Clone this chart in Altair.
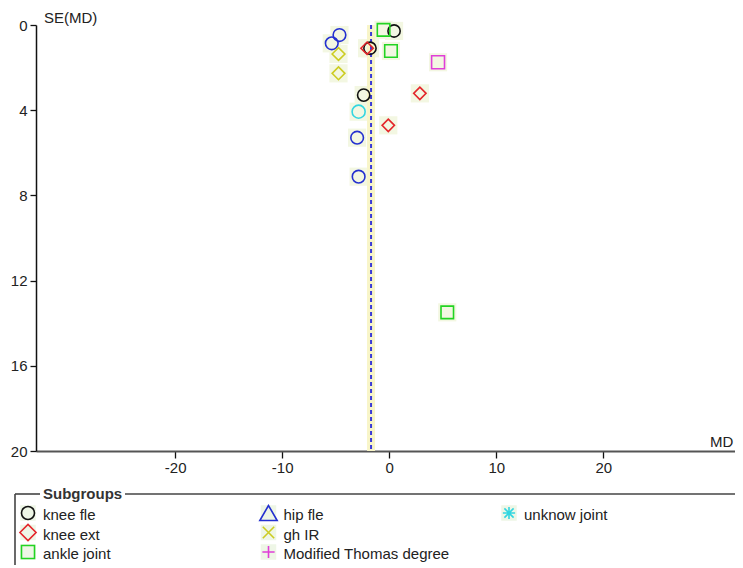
import altair as alt
import pandas as pd

# ---- data ----
groups = ["knee fle", "knee ext", "ankle joint", "hip fle", "gh IR",
          "Modified Thomas degree", "unknow joint"]

knee_fle_md = [0.45, -1.80, -2.39]
knee_fle_se = [0.28, 1.09, 3.29]
knee_ext_md = [-2.07, 2.86, -0.09]
knee_ext_se = [1.09, 3.21, 4.71]
ankle_md = [-0.53, 0.16, 5.42]
ankle_se = [0.23, 1.22, 13.49]
hip_fle_md = [-4.65, -5.37, -3.00, -2.86]
hip_fle_se = [0.47, 0.86, 5.29, 7.12]
gh_ir_md = [-4.74, -4.74]
gh_ir_se = [1.36, 2.27]
thomas_md = [4.56]
thomas_se = [1.75]
unknow_md = [-2.86]
unknow_se = [4.07]

pooled_md = [-1.70]

x_ticks = [-20, -10, 0, 10, 20]
y_ticks = [0, 4, 8, 12, 16, 20]

# ---- styles ----
group_colors = ["#111111", "#e3262a", "#22d422", "#2430d0", "#cccc22", "#e03fd8", "#33d6e0"]
plot_shapes = ["circle", "diamond", "square", "circle", "diamond", "square", "circle"]
plot_sizes = [150, 170, 121, 150, 170, 121, 150]
legend_shapes = [
    "circle", "diamond", "square", "triangle-up",
    "M-1,-1L1,1M-1,1L1,-1",
    "M-1,0L1,0M0,-1L0,1",
    "M-1,0L1,0M0,-1L0,1M-0.75,-0.75L0.75,0.75M-0.75,0.75L0.75,-0.75",
]
legend_sizes = [170, 260, 170, 300, 130, 150, 150]
legend_col = [0, 0, 0, 1, 1, 1, 2]
legend_row = [0, 1, 2, 0, 1, 2, 0]

FONT = "Liberation Sans"
X_DOMAIN = [-33.0, 32.3]

rows = []
for g, mds, ses in [
    ("knee fle", knee_fle_md, knee_fle_se),
    ("knee ext", knee_ext_md, knee_ext_se),
    ("ankle joint", ankle_md, ankle_se),
    ("hip fle", hip_fle_md, hip_fle_se),
    ("gh IR", gh_ir_md, gh_ir_se),
    ("Modified Thomas degree", thomas_md, thomas_se),
    ("unknow joint", unknow_md, unknow_se),
]:
    for m, s in zip(mds, ses):
        rows.append({"group": g, "md": m, "se": s})
pts = pd.DataFrame(rows)
pooled = pd.DataFrame({"md": pooled_md})

x_enc = alt.X("md:Q",
              scale=alt.Scale(domain=X_DOMAIN, nice=False, zero=False),
              axis=alt.Axis(values=x_ticks, title=None, grid=False,
                            labelExpr="'' + datum.value",
                            domainColor="#555555", domainWidth=2,
                            tickColor="#111111", tickWidth=1.3, tickSize=7,
                            labelFontSize=15, labelColor="#222222",
                            labelPadding=2, labelFont=FONT))
y_enc = alt.Y("se:Q",
              scale=alt.Scale(domain=[0, 20], reverse=True, nice=False, zero=False),
              axis=alt.Axis(values=y_ticks, title=None, grid=False,
                            domainColor="#111111", domainWidth=1.5,
                            tickColor="#111111", tickWidth=1.3, tickSize=6,
                            labelFontSize=15, labelColor="#222222",
                            labelPadding=3, labelFont=FONT))

halo = alt.Chart(pts).mark_square(size=330, color="#f3f7e2", opacity=1).encode(
    x=x_enc, y=y_enc)

band = alt.Chart(pooled).mark_rule(color="#f8f5c8", strokeWidth=8).encode(
    x=x_enc)
dash = alt.Chart(pooled).mark_rule(color="#3a3ad6", strokeWidth=2,
                                   strokeDash=[4, 3]).encode(x=x_enc)

points = alt.Chart(pts).mark_point(filled=False, strokeWidth=1.6, opacity=1).encode(
    x=x_enc, y=y_enc,
    color=alt.Color("group:N", scale=alt.Scale(domain=groups, range=group_colors), legend=None),
    shape=alt.Shape("group:N", scale=alt.Scale(domain=groups, range=plot_shapes), legend=None),
    size=alt.Size("group:N", scale=alt.Scale(domain=groups, range=plot_sizes), legend=None),
)

# axis captions
se_title = alt.Chart(pd.DataFrame({"t": ["SE(MD)"]})).mark_text(
    align="left", baseline="middle", fontSize=15, font=FONT, color="#222222").encode(
    text="t:N", x=alt.value(8), y=alt.value(-7))
md_title = alt.Chart(pd.DataFrame({"t": ["MD"]})).mark_text(
    align="left", baseline="middle", fontSize=15, font=FONT, color="#222222").encode(
    text="t:N", x=alt.value(674), y=alt.value(417))

# ---- custom legend box ----
leg = pd.DataFrame({"group": groups, "col": legend_col, "row": legend_row,
                    "lshape": legend_shapes, "lcolor": group_colors,
                    "lsize": legend_sizes})

leg_base = alt.Chart(leg).transform_calculate(
    sx="-8 + datum.col * 240.5",
    tx="7 + datum.col * 240.5",
    sy="488 + datum.row * 19.5",
    ty="490 + datum.row * 19.5",
)
leg_halo = leg_base.mark_square(size=240, color="#eef6e6", opacity=1).encode(
    x=alt.X("sx:Q", scale=None, axis=None), y=alt.Y("sy:Q", scale=None, axis=None))
leg_sym = leg_base.mark_point(filled=False, strokeWidth=1.6, opacity=1).encode(
    x=alt.X("sx:Q", scale=None, axis=None),
    y=alt.Y("sy:Q", scale=None, axis=None),
    shape=alt.Shape("lshape:N", scale=None),
    color=alt.Color("lcolor:N", scale=None),
    size=alt.Size("lsize:Q", scale=None),
)
leg_txt = leg_base.mark_text(align="left", baseline="middle", fontSize=15,
                             font=FONT, color="#222222").encode(
    x=alt.X("tx:Q", scale=None, axis=None),
    y=alt.Y("ty:Q", scale=None, axis=None),
    text="group:N",
)

frame_df = pd.DataFrame({"k": [0]})
frame_left = alt.Chart(frame_df).mark_rule(color="#444444", strokeWidth=1.6).encode(
    x=alt.value(-21), y=alt.value(469), y2=alt.value(560))
frame_top1 = alt.Chart(frame_df).mark_rule(color="#444444", strokeWidth=1.6).encode(
    x=alt.value(-21), x2=alt.value(4), y=alt.value(469))
frame_top2 = alt.Chart(frame_df).mark_rule(color="#444444", strokeWidth=1.6).encode(
    x=alt.value(89), x2=alt.value(760), y=alt.value(469))
leg_title = alt.Chart(pd.DataFrame({"t": ["Subgroups"]})).mark_text(
    align="left", baseline="middle", fontSize=15, fontWeight="bold", font=FONT,
    color="#333333").encode(text="t:N", x=alt.value(7), y=alt.value(469))

chart = alt.layer(
    halo, band, dash, points, se_title, md_title,
    frame_left, frame_top1, frame_top2, leg_title, leg_halo, leg_sym, leg_txt,
).properties(
    width=699, height=426,
    autosize=alt.AutoSizeParams(type="none"),
    padding={"left": 28, "top": 17, "right": 0, "bottom": 114},
    background="white",
).configure(font=FONT).configure_view(stroke=None).configure_axis(grid=False)

chart.save("out.html", embed_options={"renderer": "svg", "actions": False})
